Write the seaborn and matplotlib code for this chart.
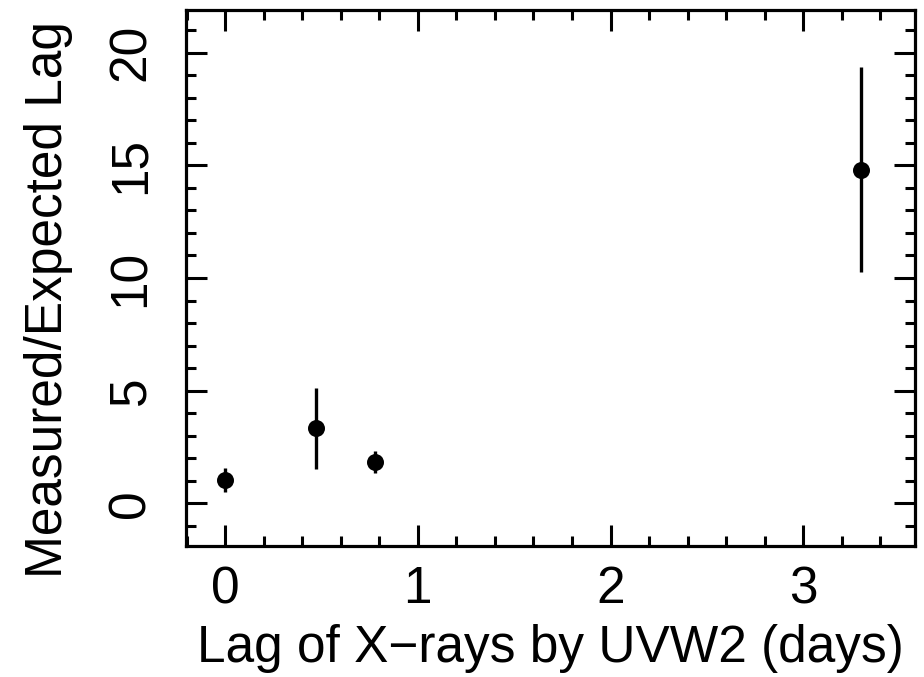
import numpy as np
import pandas as pd
import matplotlib
matplotlib.use("Agg")
import matplotlib.pyplot as plt
import seaborn as sns
from matplotlib.ticker import MultipleLocator

# data
lag_days = [0.0, 0.47, 0.78, 3.30]
ratio = [1.02, 3.33, 1.82, 14.8]
ratio_err = [0.53, 1.8, 0.5, 4.55]

df = pd.DataFrame({"lag": lag_days, "ratio": ratio, "err": ratio_err})

# ---- style ----
sns.set_theme(style="ticks")
plt.rcParams["font.family"] = ["Liberation Sans", "DejaVu Sans"]

fig = plt.figure(figsize=(9.24, 6.77), dpi=100)
ax = fig.add_axes([186 / 924, 1 - 546 / 677, (915 - 186) / 924, (546 - 10) / 677])

ax.errorbar(df["lag"], df["ratio"], yerr=df["err"], fmt="none",
            ecolor="black", elinewidth=2.4, capsize=0, zorder=2)
sns.scatterplot(data=df, x="lag", y="ratio", ax=ax, color="black",
                s=150, edgecolor="black", linewidth=0, zorder=3, legend=False)

ax.set_xlim(-0.203, 3.58)
ax.set_ylim(-1.9, 21.9)

ax.xaxis.set_major_locator(MultipleLocator(1))
ax.xaxis.set_minor_locator(MultipleLocator(0.2))
ax.yaxis.set_major_locator(MultipleLocator(5))
ax.yaxis.set_minor_locator(MultipleLocator(1))

for s in ax.spines.values():
    s.set_linewidth(2.3)
    s.set_color("black")

ax.tick_params(which="both", direction="in", top=True, right=True,
               width=2.2, color="black", labelsize=37, labelcolor="black")
ax.tick_params(which="major", length=15)
ax.tick_params(which="minor", length=7.5)
ax.tick_params(axis="x", which="major", pad=14)
ax.tick_params(axis="y", which="major", pad=22)
for lbl in ax.get_yticklabels():
    lbl.set_rotation(90)
    lbl.set_va("center")

ax.set_xlabel("Lag of X\u2212rays by UVW2 (days)", fontsize=37, color="black")
ax.set_ylabel("Measured/Expected Lag", fontsize=37, color="black")
ax.xaxis.set_label_coords(0.5, -0.145)
ax.yaxis.set_label_coords(-0.155, 0.46)

fig.savefig("out.png", dpi=100)
